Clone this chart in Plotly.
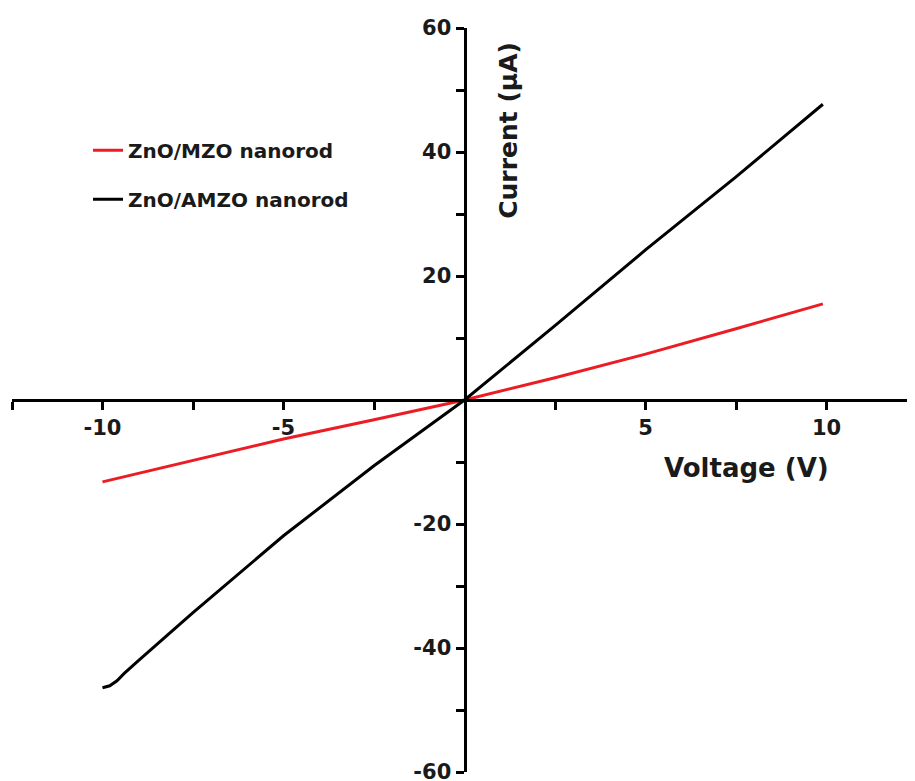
import plotly.graph_objects as go

# Data
voltage_mzo = [-10, -7.5, -5, -2.5, 0, 2.5, 5, 7.5, 9.9]
current_mzo = [-13.2, -9.7, -6.3, -3.2, 0, 3.6, 7.4, 11.5, 15.5]

voltage_amzo = [-10, -9.8, -9.6, -9.4, -9, -7.5, -5, -2.5, 0, 2.5, 5, 7.5, 9.9]
current_amzo = [-46.4, -46.1, -45.3, -44.1, -42.0, -34.3, -21.9, -10.6, 0, 12.0, 24.2, 36.0, 47.7]

series_names = ["ZnO/MZO nanorod", "ZnO/AMZO nanorod"]

x_major = [-10, -5, 5, 10]
x_minor = [-12.5, -7.5, -2.5, 2.5, 7.5, 12.5]
y_major = [-60, -40, -20, 20, 40, 60]
y_minor = [-50, -30, -10, 10, 30, 50]

FONT = "DejaVu Sans"
TXT = "#1a1a1a"

fig = go.Figure()
fig.add_trace(go.Scatter(x=voltage_mzo, y=current_mzo, mode="lines", name=series_names[0],
                         line=dict(color="#ec1c24", width=3), legendgroup="a"))
fig.add_trace(go.Scatter(x=voltage_amzo, y=current_amzo, mode="lines", name=series_names[1],
                         line=dict(color="black", width=3), legendgroup="b"))

axis_common = dict(
    showline=True, linecolor="black", linewidth=3,
    ticks="outside", ticklen=8, tickwidth=2.5, tickcolor="black",
    showgrid=False, zeroline=False, anchor="free", position=0.5,
    tickfont=dict(family=FONT, size=21, color=TXT, weight="bold"),
    automargin=False, tickmode="array",
)

fig.update_layout(
    width=915, height=781,
    margin=dict(l=4, r=6, t=20, b=17),
    paper_bgcolor="white", plot_bgcolor="white",
    xaxis=dict(range=[-12.5, 12.5], tickvals=x_major, ticktext=[str(v) for v in x_major],
               minor=dict(tickmode="array", tickvals=x_minor, ticks="outside", ticklen=8,
                          tickwidth=2.5, tickcolor="black"),
               **axis_common),
    yaxis=dict(range=[-60, 60], tickvals=y_major, ticktext=[str(v) for v in y_major],
               minor=dict(tickmode="array", tickvals=y_minor, ticks="outside", ticklen=8,
                          tickwidth=2.5, tickcolor="black"),
               **axis_common),
    showlegend=True,
    legend=dict(x=0.084, y=0.862, xanchor="left", yanchor="top",
                font=dict(family=FONT, size=20, color=TXT, weight="bold"),
                tracegroupgap=20, bgcolor="rgba(0,0,0,0)"),
    annotations=[
        dict(text="Voltage (V)", x=0.812, y=0.408, xref="paper", yref="paper",
             xanchor="center", yanchor="middle",
             showarrow=False, font=dict(family=FONT, size=26, color=TXT, weight="bold")),
        dict(text="Current (μA)", x=0.549, y=0.863, xref="paper", yref="paper", textangle=-90,
             xanchor="center", yanchor="middle",
             showarrow=False, font=dict(family=FONT, size=25, color=TXT, weight="bold")),
    ],
)

fig.write_html("out.html")
